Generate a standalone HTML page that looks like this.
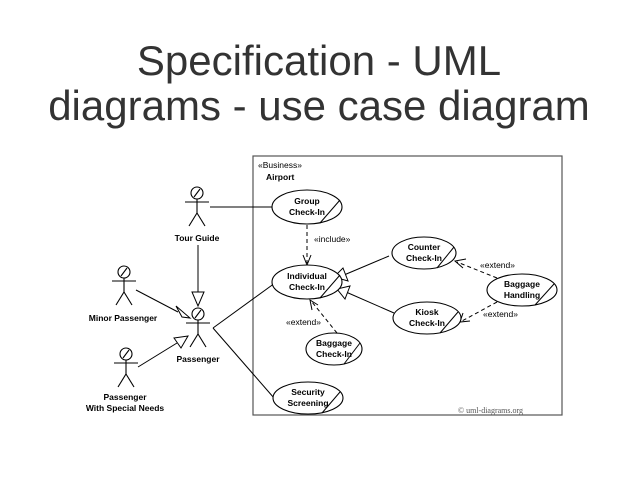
<!DOCTYPE html>
<html><head><style>
body{margin:0;width:638px;height:479px;background:#fff;overflow:hidden}
.t{position:absolute;left:0;width:638px;text-align:center;font-family:"Liberation Sans",sans-serif;font-size:42px;color:#333;font-weight:300;line-height:48px}
</style></head><body>
<div class="t" style="top:37px">Specification - UML</div>
<div class="t" style="top:82px">diagrams - use case diagram</div>
<svg width="638" height="479" style="position:absolute;left:0;top:0" font-family="Liberation Sans,sans-serif" font-size="8.5">
<defs>
<g id="actor" stroke="#000" fill="none" stroke-width="1.1">
<circle cx="0" cy="0" r="6"/><line x1="-3" y1="4" x2="3" y2="-4"/>
<line x1="0" y1="6" x2="0" y2="20"/><line x1="-12" y1="9" x2="12" y2="9"/>
<line x1="0" y1="20" x2="-8" y2="33"/><line x1="0" y1="20" x2="8" y2="33"/>
</g>
</defs>
<rect x="253" y="156" width="309" height="259" fill="none" stroke="#555" stroke-width="1.2"/>
<text x="258" y="168">«Business»</text>
<text x="266" y="180" font-weight="bold">Airport</text>
<use href="#actor" x="197" y="193"/>
<use href="#actor" x="124" y="272"/>
<use href="#actor" x="198" y="314"/>
<use href="#actor" x="126" y="354"/>
<g font-weight="bold" text-anchor="middle">
<text x="197" y="241">Tour Guide</text>
<text x="123" y="321">Minor Passenger</text>
<text x="198" y="362">Passenger</text>
<text x="125" y="400">Passenger</text>
<text x="125" y="411">With Special Needs</text>
</g>
<g stroke="#000" fill="none" stroke-width="1">
<line x1="210" y1="207" x2="272" y2="207"/>
<line x1="198" y1="245" x2="198" y2="292"/>
<polygon points="192,292 204,292 198,306" fill="#fff"/>
<line x1="136" y1="290" x2="178" y2="312"/>
<polygon points="176,306 182,317 190,318" fill="#fff"/>
<line x1="138" y1="367" x2="177" y2="343"/>
<polygon points="174,338 181,348 188,336" fill="#fff"/>
<line x1="213" y1="328" x2="275" y2="283"/>
<line x1="213" y1="328" x2="274" y2="398"/>
<line x1="307" y1="225" x2="307" y2="263" stroke-dasharray="4,3"/>
<polyline points="303,255 307,265 311,255"/>
<line x1="389" y1="256" x2="344" y2="275"/>
<polygon points="343,268 348,281 334,277" fill="#fff"/>
<line x1="394" y1="313" x2="346" y2="292"/>
<polygon points="350,286 345,299 337,289" fill="#fff"/>
<line x1="337" y1="333" x2="312" y2="302" stroke-dasharray="4,3"/>
<polyline points="312,310 310,300 318,305"/>
<line x1="497" y1="278" x2="457" y2="262" stroke-dasharray="4,3"/>
<polyline points="466,259 455,261 463,268"/>
<line x1="497" y1="302" x2="462" y2="321" stroke-dasharray="4,3"/>
<polyline points="463,313 460,322 470,321"/>
<g stroke-width="1.1" fill="#fff">
<ellipse cx="307" cy="207" rx="35" ry="17"/>
<ellipse cx="307" cy="282" rx="35" ry="17"/>
<ellipse cx="334" cy="349" rx="28" ry="16"/>
<ellipse cx="308" cy="398" rx="35" ry="16"/>
<ellipse cx="424" cy="253" rx="32" ry="16"/>
<ellipse cx="427" cy="318" rx="34" ry="16"/>
<ellipse cx="522" cy="290" rx="35" ry="16"/>
</g>
<line x1="320" y1="223" x2="340" y2="200"/>
<line x1="320" y1="298" x2="340" y2="275"/>
<line x1="344" y1="364" x2="360" y2="343"/>
<line x1="322" y1="413" x2="340" y2="392"/>
<line x1="437" y1="268" x2="454" y2="247"/>
<line x1="440" y1="333" x2="458" y2="312"/>
<line x1="535" y1="305" x2="554" y2="284"/>
</g>
<g font-weight="bold" text-anchor="middle">
<text x="307" y="204">Group</text><text x="307" y="215">Check-In</text>
<text x="307" y="279">Individual</text><text x="307" y="290">Check-In</text>
<text x="334" y="346">Baggage</text><text x="334" y="357">Check-In</text>
<text x="308" y="395">Security</text><text x="308" y="406">Screening</text>
<text x="424" y="250">Counter</text><text x="424" y="261">Check-In</text>
<text x="427" y="315">Kiosk</text><text x="427" y="326">Check-In</text>
<text x="522" y="287">Baggage</text><text x="522" y="298">Handling</text>
</g>
<text x="314" y="242">«include»</text>
<text x="286" y="325">«extend»</text>
<text x="480" y="268">«extend»</text>
<text x="483" y="317">«extend»</text>
<text x="458" y="413" font-family="Liberation Serif,serif" font-size="8" fill="#555">© uml-diagrams.org</text>
</svg>
</body></html>
